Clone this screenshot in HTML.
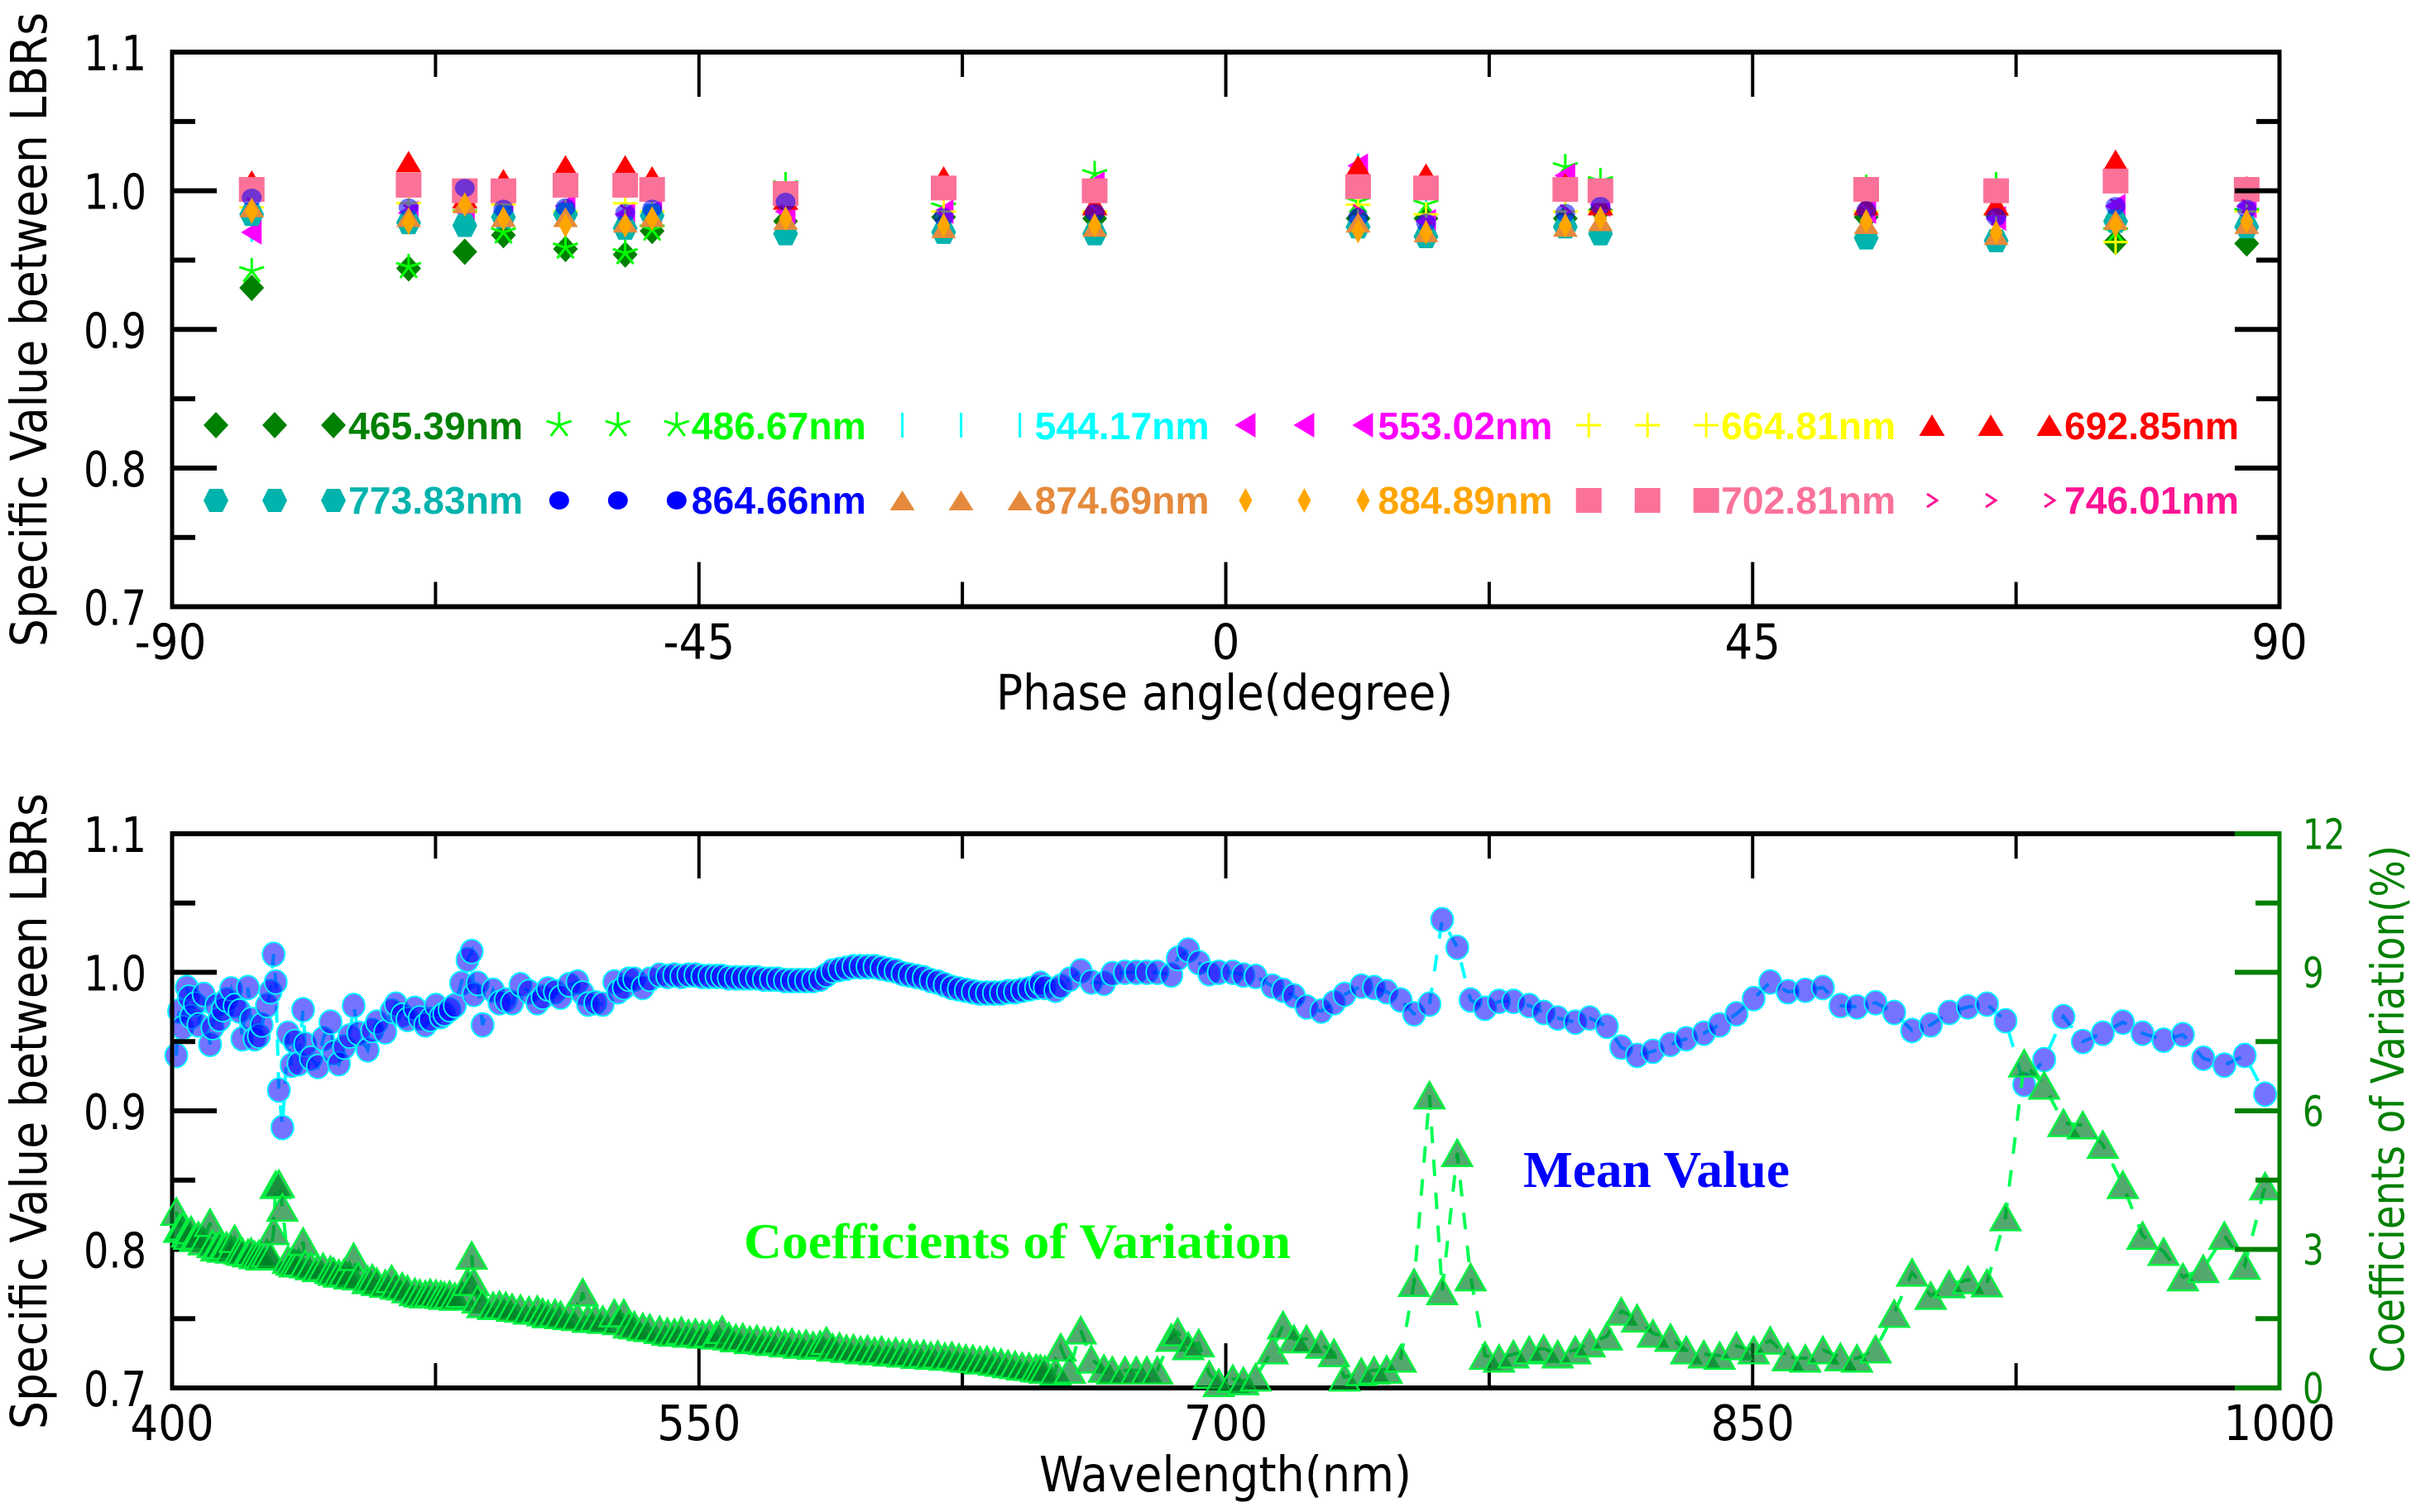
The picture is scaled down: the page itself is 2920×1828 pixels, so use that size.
<!DOCTYPE html>
<html lang="en">
<head>
<meta charset="utf-8">
<title>Specific value between LBRs</title>
<style>
html,body{margin:0;padding:0;background:#fff;}
svg{display:block;}
text{font-family:"DejaVu Sans","Liberation Sans",sans-serif;}
</style>
</head>
<body>
<svg id="chart" xmlns="http://www.w3.org/2000/svg" width="2920" height="1828" viewBox="0 0 2920 1828">
<rect x="0" y="0" width="2920" height="1828" fill="#ffffff"/>
<g id="top-plot"></g>
<g id="bottom-plot"></g>
</svg>
<script>
/* ---------- top chart data ---------- */
const phaseAngles = [-83.2,-69.8,-65,-61.7,-56.4,-51.3,-49,-37.6,-24.1,-11.2,11.3,17.1,29,32,54.7,65.8,76,87.2];
const values465 = [.930,.944,.956,.968,.958,.954,.971,.978,.981,.980,.980,.980,.980,.986,.981,.983,.963,.962];
const values486 = [.942,.945,.983,.970,.959,.955,.972,1.004,.988,1.012,.992,.990,1.017,1.007,1.002,1.004,.970,.984];
const values544 = [.972,.985,.980,.985,.985,.980,.985,.985,.980,.985,1.018,.985,.990,.985,.985,.985,.985,.985];
const values553 = [.970,.984,.985,.985,.989,.983,.985,.985,.985,1.005,1.018,.978,1.011,.990,.985,.980,.989,.989];
const values664 = [.988,.991,.985,.990,.985,.991,.985,.990,.985,.985,.990,.983,.985,.985,.985,.983,.963,.985];
const values692 = [1.007,1.021,.995,1.008,1.018,1.018,1.010,.994,1.010,.990,1.018,1.012,1.005,.990,.990,.990,1.022,1.003];
const values702 = [1.001,1.004,1.000,1.000,1.004,1.004,1.001,.998,1.002,1.000,1.003,1.002,1.001,1.000,1.001,1.000,1.007,1.001];
const values746 = [.990,.985,.985,.985,.985,.985,.985,.985,.980,.985,.985,.977,.985,.985,.985,.980,.989,.989];
const values773 = [.983,.977,.975,.981,.983,.973,.982,.969,.970,.969,.974,.967,.974,.969,.966,.964,.978,.974];
const values864 = [.995,.988,1.002,.987,.988,.984,.987,.992,.981,.984,.981,.977,.984,.989,.986,.981,.989,.987];
const values874 = [.988,.981,.991,.981,.981,.977,.981,.979,.973,.974,.977,.970,.974,.978,.976,.968,.979,.976];
const values884 = [.985,.977,.990,.980,.975,.975,.980,.980,.975,.975,.971,.970,.975,.980,.978,.970,.975,.978];

const seriesLabels = ['465.39nm','486.67nm','544.17nm','553.02nm','664.81nm','692.85nm','773.83nm','864.66nm','874.69nm','884.89nm','702.81nm','746.01nm'];
const seriesSymbols = ['diamond','star','bar','lefttri','plus','uptri','hexagon','circle','uptri2','thindiamond','square','chevron'];
const seriesColors = ['#008000','#00ff00','#00ffff','#ff00ff','#ffff00','#ff0000','#00b3ad','#0000ff','#e58a3c','#ffa500','#fb7299','#ff1493'];

/* draw order runs by wavelength; entries index the legend arrays above */
const drawOrder = [0,1,2,3,4,5,10,11,6,7,8,9];
const seriesValues = [values465,values486,values544,values553,values664,values692,values773,values864,values874,values884,values702,values746];

const phaseTicks = [-90,-67.5,-45,-22.5,0,22.5,45,67.5,90];
const phaseTickLabels = ['-90','','-45','','0','','45','','90'];
const ratioTicks = [0.7,0.75,0.8,0.85,0.9,0.95,1.0,1.05,1.1];
const ratioTickLabels = ['0.7','','0.8','','0.9','','1.0','','1.1'];

/* ---------- bottom chart data ---------- */
const wavelengths = [
401.2,402,403,404.2,404.8,405.4,406.5,407.5,409,410.8,
411.5,412.6,413.5,414.4,415.5,416.8,417.8,419.2,420,421.6,
422.5,423.5,424.7,425.5,427,428,428.9,429.5,430.4,431.4,
433,434,434.9,436,437.3,437.9,439.5,441.5,443,445.1,
446,447.5,449,450.5,451.7,453,455.7,457,458.3,460.7,
462.5,463.7,465.5,467,469.1,470.5,472.1,473.5,475.1,476.5,
477.5,479,480.5,482.3,484.1,485.3,485.9,487,488.4,491.4,
493.2,495,496.8,499.2,501.6,504,505.5,507,509,510.6,
513,515.4,516.9,518.4,520.5,522.6,525.9,527,528.6,530,
531.6,534,536,538.8,
541,543,545,547,549,551,553,555,556.6,558.5,
560.5,562.5,564.5,566.5,568.5,570.5,572.5,574.5,576.5,578.5,
580.5,582.5,584.5,586.3,588,590,592,594,596,598,
600,602,604,606,608,610,612,614,616,618,
620,622,624,626,628,630,632,634,636,638,
640,642,644,646,647.2,648.5,651.5,653,655.6,658.7,
661.7,665.3,
667.7,671.3,674.5,677.5,680.5,684.5,686.3,689.3,692.3,695.3,
698,702,705,708.5,713.3,716.3,719.4,723,727.2,730.8,
733.8,738.6,742.2,745.8,749.8,753.6,758,761.6,765.9,769.7,
773.8,777.8,781.9,786.4,790.5,794.5,799.5,803.6,808.5,812.6,
817.1,821.6,826.6,831.1,836.1,840.6,845.4,850.3,855,860,
865,870,875,879.7,885,890.3,895.4,900.7,906,911.3,
916.7,922,927.3,933,938.5,944,949.7,955.4,961,967,
972.5,978.3,984.3,990.1,995.9];
const meanValues = [
.940,.972,.960,.989,.982,.968,.977,.962,.984,.948,
.960,.976,.966,.973,.980,.988,.976,.972,.952,.989,
.966,.952,.954,.962,.976,.986,1.013,.993,.915,.888,
.956,.933,.950,.934,.973,.948,.938,.932,.952,.964,
.942,.934,.946,.954,.976,.956,.944,.958,.964,.957,
.972,.977,.969,.966,.974,.967,.962,.966,.976,.968,
.970,.973,.976,.992,1.009,1.015,.984,.992,.962,.987,
.978,.980,.978,.991,.986,.978,.982,.988,.986,.982,
.991,.993,.985,.977,.978,.977,.993,.986,.989,.995,
.995,.989,.995,.998,
.997,.998,.997,.998,.998,.997,.997,.997,.997,.996,
.996,.996,.996,.996,.995,.995,.995,.994,.994,.994,
.994,.994,.995,.998,1.001,1.002,1.003,1.004,1.004,1.004,
1.004,1.003,1.002,1.001,.999,.998,.997,.996,.994,.993,
.991,.989,.988,.987,.986,.985,.985,.985,.985,.986,
.986,.987,.988,.989,.992,.989,.987,.990,.995,1.001,
.993,.992,
.999,1.0,1.0,1.0,1.0,.998,1.01,1.016,1.007,.999,
1.0,1.0,.998,.997,.99,.987,.983,.975,.972,.978,
.984,.99,.989,.986,.98,.97,.977,1.038,1.018,.98,
.974,.979,.979,.976,.971,.967,.964,.967,.961,.946,
.94,.943,.948,.952,.956,.962,.97,.981,.993,.986,
.987,.989,.976,.975,.978,.971,.958,.962,.971,.975,
.977,.965,.919,.937,.968,.950,.956,.964,.956,.951,
.955,.938,.933,.94,.912];
const cvValues = [
3.82,3.45,3.50,3.35,3.30,3.42,3.25,3.30,3.18,3.58,
3.12,3.05,3.10,3.02,3.08,3.00,3.23,2.98,2.95,2.92,
2.95,2.88,2.90,2.85,2.92,2.86,3.40,4.40,4.42,3.91,
2.78,2.74,2.70,2.72,3.17,2.68,2.64,2.60,2.62,2.56,
2.52,2.48,2.50,2.44,2.84,2.42,2.34,2.38,2.30,2.26,
2.36,2.22,2.20,2.14,2.08,2.05,2.03,2.06,2.04,2.02,
2.00,2.02,1.98,2.04,2.30,2.87,2.30,1.92,1.82,1.78,
1.80,1.78,1.74,1.72,1.68,1.70,1.64,1.60,1.62,1.58,
1.56,1.54,2.07,1.50,1.52,1.48,1.62,1.45,1.62,1.38,
1.36,1.32,1.30,1.26,
1.22,1.20,1.24,1.18,1.20,1.16,1.18,1.14,1.26,1.12,
1.08,1.10,1.04,1.06,1.02,1.00,1.03,.97,.99,.94,
.96,.92,.94,1.02,.88,.90,.85,.86,.82,.84,
.80,.82,.77,.79,.75,.76,.72,.74,.70,.72,
.68,.70,.66,.64,.63,.60,.61,.57,.55,.52,
.50,.47,.46,.43,.42,.40,.36,.88,.40,1.25,
.62,.42,
.38,.38,.38,.38,.38,1.09,1.21,.91,.97,.29,
.11,.2,.15,.23,.82,1.36,1.06,1.06,.94,.76,
.23,.35,.38,.40,.64,2.28,6.34,2.10,5.09,2.40,
.70,.64,.73,.82,.85,.73,.82,.97,1.12,1.66,
1.51,1.18,1.09,.82,.73,.70,.91,.82,1.03,.67,
.64,.82,.67,.64,.84,1.61,2.50,2.00,2.25,2.34,
2.27,3.70,7.03,6.55,5.74,5.69,5.27,4.40,3.30,2.95,
2.40,2.58,3.30,2.65,4.37];

const wavelengthTicks = [400,475,550,625,700,775,850,925,1000];
const wavelengthTickLabels = ['400','','550','','700','','850','','1000'];
const cvTicks = [0,1.5,3,4.5,6,7.5,9,10.5,12];
const cvTickLabels = ['0','','3','','6','','9','','12'];

/* ---------- axis functions ---------- */
const PLOT_L = 208, PLOT_R = 2755;
const TOP_T = 63, TOP_B = 733.5, BOT_T = 1008, BOT_B = 1678;
const xPhase = v => PLOT_L + (v + 90) / 180 * (PLOT_R - PLOT_L);
const yRatioTop = v => TOP_B - (v - 0.7) / 0.4 * (TOP_B - TOP_T);
const xWave = v => PLOT_L + (v - 400) / 600 * (PLOT_R - PLOT_L);
const yRatioBot = v => BOT_B - (v - 0.7) / 0.4 * (BOT_B - BOT_T);
const yCv = v => BOT_B - v / 12 * (BOT_B - BOT_T);

const NS = 'http://www.w3.org/2000/svg';
function make(tag, attrs, parent){
  const el = document.createElementNS(NS, tag);
  for (const k in attrs) el.setAttribute(k, attrs[k]);
  parent.appendChild(el);
  return el;
}
function line(parent, x1, y1, x2, y2, color, w){
  return make('line', {x1:x1, y1:y1, x2:x2, y2:y2, stroke:color, 'stroke-width':w}, parent);
}
function poly(parent, pts, fill){
  return make('polygon', {points:pts.map(p => p.join(',')).join(' '), fill:fill}, parent);
}
/* Squeezed label: the reference's type is horizontally condensed. */
function label(parent, text, x, y, size, sx, anchor, color){
  const el = make('text', {transform:'translate(' + x + ',' + y + ') scale(' + sx + ',1)', 'font-size':size, 'text-anchor':anchor, fill:color}, parent);
  el.textContent = text;
  return el;
}

function drawMarker(parent, sym, x, y, color, alpha){
  const g = make('g', {transform:'translate(' + x + ',' + y + ')'}, parent);
  if (sym === 'diamond') poly(g, [[0,-16],[15,0],[0,16],[-15,0]], color);
  else if (sym === 'star') {
    line(g,0,0,0,-16,color,3); line(g,0,0,15,-5,color,3); line(g,0,0,-15,-5,color,3);
    line(g,0,0,10,13,color,3); line(g,0,0,-10,13,color,3);
  }
  else if (sym === 'bar') line(g,0,-15,0,15,color,3);
  else if (sym === 'lefttri') poly(g, [[-13,0],[12,-15],[12,15]], color);
  else if (sym === 'plus') { line(g,-15,0,15,0,color,3); line(g,0,-15,0,15,color,3); }
  else if (sym === 'uptri') poly(g, [[0,-13],[15.5,13],[-15.5,13]], color);
  else if (sym === 'uptri2') poly(g, [[0,-12],[15,12],[-15,12]], color);
  else if (sym === 'hexagon') poly(g, [[-8,-14],[8,-14],[15,0],[8,14],[-8,14],[-15,0]], color);
  else if (sym === 'circle') {
    const c = make('ellipse', {cx:0, cy:0, rx:12, ry:11, fill:color}, g);
    c.setAttribute('fill-opacity', alpha);
  }
  else if (sym === 'thindiamond') poly(g, [[0,-15],[8,0],[0,15],[-8,0]], color);
  else if (sym === 'square') make('rect', {x:-15.5, y:-15, width:31, height:30, fill:color}, g);
  else if (sym === 'chevron') make('polyline', {points:'-6,-8 6,0 -6,8', fill:'none', stroke:color, 'stroke-width':3}, g);
  return g;
}

function drawFrame(parent, xTicks, xLabels, xFn, yFn, yTicks, yLabels, T, B, rightGreen){
  const ticks = make('g', {}, parent);
  
  
  xTicks.forEach((t, i) => {
    const len = i % 2 === 0 ? 54 : 30;
    if (i === 0 || i === xTicks.length - 1) return;
    line(ticks, xFn(t), B, xFn(t), B - len, '#000', 4);
    line(ticks, xFn(t), T, xFn(t), T + len, '#000', 4);
  });
  yTicks.forEach((t, i) => {
    const len = i % 2 === 0 ? 54 : 28;
    line(ticks, PLOT_L, yFn(t), PLOT_L + len, yFn(t), '#000', 6);
    if (!rightGreen) line(ticks, PLOT_R, yFn(t), PLOT_R - len, yFn(t), '#000', 6);
  });
  const frame = make('g', {}, parent);
  
  
  line(frame, PLOT_L - 2.5, T, PLOT_R + 2.5, T, '#000', 6);
  line(frame, PLOT_L - 2.5, B, PLOT_R + 2.5, B, '#000', 6);
  line(frame, PLOT_L, T, PLOT_L, B, '#000', 5);
  if (!rightGreen) line(frame, PLOT_R, T, PLOT_R, B, '#000', 5);

  yLabels.forEach((s, i) => {
    if (!s) return;
    const el = label(parent, s, 177, yFn(yTicks[i]) + 22, 59, 0.81, 'end', '#000');
    
    
  });
  xLabels.forEach((s, i) => {
    if (!s) return;
    const el = label(parent, s, xFn(xTicks[i]) - (s === '-90' ? 2 : 0), B + 63, 59, 0.9, 'middle', '#000');
    
    
  });
}

/* ---------- top plot ---------- */
const topPlot = document.getElementById('top-plot');
const topMarks = make('g', {}, topPlot);


drawOrder.forEach(idx => {
  const g = make('g', {}, topMarks);
  
  
  seriesValues[idx].forEach((v, i) => {
    const m = drawMarker(g, seriesSymbols[idx], xPhase(phaseAngles[i]), yRatioTop(v), seriesColors[idx], 0.55);
    
    
  });
});
drawFrame(topPlot, phaseTicks, phaseTickLabels, xPhase, yRatioTop, ratioTicks, ratioTickLabels, TOP_T, TOP_B, false);

/* legend */
const legend = make('g', {}, topPlot);


seriesLabels.forEach((name, i) => {
  const col = i % 6, row = i < 6 ? 0 : 1;
  const x0 = 261 + 414.8 * col;
  const cy = row === 0 ? 514 : 605;
  const base = row === 0 ? 531 : 621;
  const g = make('g', {}, legend);
  
  
  [0, 71, 142].forEach(dx => drawMarker(g, seriesSymbols[i], x0 + dx, cy, seriesColors[i], 1));
  const t = make('text', {x:x0 + 160, y:base, 'font-size':46, 'font-weight':'bold', fill:seriesColors[i], textLength:211, lengthAdjust:'spacingAndGlyphs', style:'font-family:"Liberation Sans",sans-serif'}, g);
  t.textContent = name;
});

function rotatedTitle(parent, text, x, y, size, len, color, name){
  const t = make('text', {transform:'translate(' + x + ',' + y + ') rotate(-90)', 'font-size':size, fill:color, textLength:len, lengthAdjust:'spacingAndGlyphs'}, parent);
  t.textContent = text;
  return t;
}
const topTitle = rotatedTitle(topPlot, 'Specific Value between LBRs', 56, 782, 61, 767, '#000');


const topXTitle = make('text', {x:1204, y:858, 'font-size':59, fill:'#000', textLength:552, lengthAdjust:'spacingAndGlyphs'}, topPlot);
topXTitle.textContent = 'Phase angle(degree)';



/* ---------- bottom plot ---------- */
const botPlot = document.getElementById('bottom-plot');
const GREEN_AXIS = '#008000';

const meanLine = make('polyline', {points:wavelengths.map((w, i) => xWave(w) + ',' + yRatioBot(meanValues[i])).join(' '), fill:'none', stroke:'#00ffff', 'stroke-width':4, 'stroke-dasharray':'20 20'}, botPlot);


const meanGroup = make('g', {}, botPlot);


wavelengths.forEach((w, i) => {
  const c = make('ellipse', {cx:xWave(w), cy:yRatioBot(meanValues[i]), rx:13.5, ry:14.5, fill:'#0000ff', 'fill-opacity':0.55, stroke:'#00ffff', 'stroke-width':1.8}, meanGroup);
  
  
});

drawFrame(botPlot, wavelengthTicks, wavelengthTickLabels, xWave, yRatioBot, ratioTicks, ratioTickLabels, BOT_T, BOT_B, true);

const cvLine = make('polyline', {points:wavelengths.map((w, i) => xWave(w) + ',' + yCv(cvValues[i])).join(' '), fill:'none', stroke:'#00ff55', 'stroke-width':4, 'stroke-dasharray':'20 20'}, botPlot);


const cvGroup = make('g', {}, botPlot);


wavelengths.forEach((w, i) => {
  const x = xWave(w), y = yCv(cvValues[i]);
  const t = make('polygon', {points:x + ',' + (y - 16) + ' ' + (x + 18) + ',' + (y + 16) + ' ' + (x - 18) + ',' + (y + 16), fill:'#008028', 'fill-opacity':0.68, stroke:'#00f040', 'stroke-width':2.5}, cvGroup);
  
  
});

/* right axis */
const rightAxis = make('g', {}, botPlot);


line(rightAxis, PLOT_R, BOT_T - 3, PLOT_R, BOT_B + 3, GREEN_AXIS, 5);
cvTicks.forEach((t, i) => {
  const len = i % 2 === 0 ? 54 : 29;
  line(rightAxis, PLOT_R, yCv(t), PLOT_R - len, yCv(t), GREEN_AXIS, 6);
});
cvTickLabels.forEach((s, i) => {
  if (!s) return;
  const el = label(rightAxis, s, 2783, yCv(cvTicks[i]) + 18.5, 51, 0.79, 'start', GREEN_AXIS);
  
  
});

const botTitle = rotatedTitle(botPlot, 'Specific Value between LBRs', 56, 1728, 61, 769, '#000');


const rightTitle = rotatedTitle(botPlot, 'Coefficients of Variation(%)', 2905, 1660, 55, 638, GREEN_AXIS);


const botXTitle = make('text', {x:1256, y:1803, 'font-size':59, fill:'#000', textLength:450, lengthAdjust:'spacingAndGlyphs'}, botPlot);
botXTitle.textContent = 'Wavelength(nm)';



const cvNote = make('text', {x:899, y:1521, 'font-size':60, 'font-weight':'bold', fill:'#00ff00', textLength:661, lengthAdjust:'spacingAndGlyphs', style:'font-family:"Liberation Serif",serif'}, botPlot);
cvNote.textContent = 'Coefficients of Variation';


const meanNote = make('text', {x:1841, y:1435, 'font-size':62, 'font-weight':'bold', fill:'#0000ff', textLength:322, lengthAdjust:'spacingAndGlyphs', style:'font-family:"Liberation Serif",serif'}, botPlot);
meanNote.textContent = 'Mean Value';


</script>
</body>
</html>
